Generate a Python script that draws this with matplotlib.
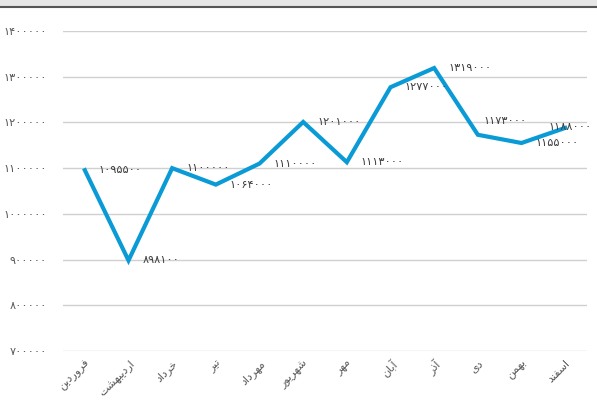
import matplotlib
matplotlib.use("Agg")
import matplotlib.pyplot as plt
from matplotlib.patches import Rectangle

months = ["فروردین", "اردیبهشت", "خرداد", "تیر", "مهرداد", "شهریور",
          "مهر", "آبان", "آذر", "دی", "بهمن", "اسفند"]
values = [1095500, 898100, 1100000, 1064000, 1110000, 1201000,
          1113000, 1277000, 1319000, 1173000, 1155000, 1188000]
yticks = [700000, 800000, 900000, 1000000, 1100000, 1200000, 1300000, 1400000]

# label offsets in points (dx, dy)
label_offsets = [(10, 0)] * 12
label_offsets[9] = (4, 10)
label_offsets[11] = (-12, 1)

# minimal Persian shaping: isolated, final, initial, medial
forms = {
    "ا": ("\uFE8D", "\uFE8E", None, None),
    "آ": ("\uFE81", "\uFE82", None, None),
    "ب": ("\uFE8F", "\uFE90", "\uFE91", "\uFE92"),
    "ت": ("\uFE95", "\uFE96", "\uFE97", "\uFE98"),
    "خ": ("\uFEA5", "\uFEA6", "\uFEA7", "\uFEA8"),
    "د": ("\uFEA9", "\uFEAA", None, None),
    "ذ": ("\uFEAB", "\uFEAC", None, None),
    "ر": ("\uFEAD", "\uFEAE", None, None),
    "س": ("\uFEB1", "\uFEB2", "\uFEB3", "\uFEB4"),
    "ش": ("\uFEB5", "\uFEB6", "\uFEB7", "\uFEB8"),
    "ف": ("\uFED1", "\uFED2", "\uFED3", "\uFED4"),
    "م": ("\uFEE1", "\uFEE2", "\uFEE3", "\uFEE4"),
    "ن": ("\uFEE5", "\uFEE6", "\uFEE7", "\uFEE8"),
    "ه": ("\uFEE9", "\uFEEA", "\uFEEB", "\uFEEC"),
    "و": ("\uFEED", "\uFEEE", None, None),
    "ی": ("\uFBFC", "\uFBFD", "\uFBFE", "\uFBFF"),
}


def shape(word):
    out = []
    for i, ch in enumerate(word):
        f = forms[ch]
        prev = word[i - 1] if i > 0 else None
        nxt = word[i + 1] if i < len(word) - 1 else None
        join_prev = prev is not None and forms[prev][2] is not None
        join_next = nxt is not None and f[2] is not None
        if join_prev and join_next:
            out.append(f[3])
        elif join_prev:
            out.append(f[1])
        elif join_next:
            out.append(f[2])
        else:
            out.append(f[0])
    return "".join(reversed(out))


fa_digits = str.maketrans("0123456789", "۰۱۲۳۴۵۶۷۸۹")


def fa_num(v):
    return str(v).translate(fa_digits)


plt.rcParams["font.family"] = ["DejaVu Sans"]

fig = plt.figure(figsize=(5.97, 4.0), dpi=100)
ax = fig.add_axes([63 / 597, 1 - 351 / 400, 524 / 597, 320 / 400])

x = list(range(len(months)))
ax.plot(x, values, color="#0a9bd6", linewidth=3.0, solid_joinstyle="miter", zorder=3)

for xi, v, (dx, dy) in zip(x, values, label_offsets):
    ax.annotate(fa_num(v), (xi, v), xytext=(dx, dy), textcoords="offset points",
                ha="left", va="center", fontsize=8.2, color="#404040",
                annotation_clip=False, zorder=4)

ax.set_xlim(-0.5, 11.5)
ax.set_ylim(700000, 1400000)
ax.set_yticks(yticks)
ax.set_yticklabels([fa_num(t) for t in yticks], fontsize=8.2, color="#595959")
ax.set_xticks(x)
ax.set_xticklabels([shape(m) for m in months], rotation=45, ha="right",
                   rotation_mode="anchor", fontsize=8, color="#595959")
ax.tick_params(length=0, pad=11.5, axis="y")
ax.tick_params(length=0, pad=5, axis="x")
ax.grid(axis="y", color="#d0d0d0", linewidth=1)
ax.set_axisbelow(True)
for s in ax.spines.values():
    s.set_visible(False)

# header band at the top
fig.patches.append(Rectangle((0, 1 - 6 / 400), 1, 6 / 400, transform=fig.transFigure,
                             facecolor="#e6e6e6", edgecolor="none", zorder=0))
fig.add_artist(plt.Line2D([0, 1], [1 - 6.5 / 400, 1 - 6.5 / 400], transform=fig.transFigure,
                          color="#555555", linewidth=1.5))

fig.savefig("out.png", dpi=100)
